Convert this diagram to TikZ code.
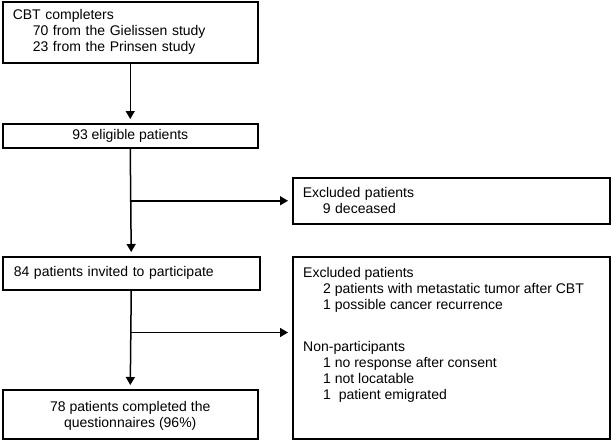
\documentclass[tikz,border=0pt]{standalone}
\usepackage{fontspec}
\setmainfont{Liberation Sans}
\usetikzlibrary{arrows.meta}
\begin{document}
\begin{tikzpicture}[x=1pt,y=1pt,
  font=\fontsize{14}{16}\selectfont,
  box/.style={draw, line width=1.5pt, rectangle, anchor=north west, inner xsep=10pt, inner ysep=0pt},
  arr/.style={line width=1.5pt, shorten >=4pt, -{Triangle[length=8pt,width=9pt]}}]
\useasboundingbox (0,0) rectangle (611,-440);
\node[box, minimum width=255pt, minimum height=61pt, text width=235pt, align=left] (b1) at (2,-1)
  {CBT completers\\\hspace*{20pt}70 from the Gielissen study\\\hspace*{20pt}23 from the Prinsen study};
\node[box, minimum width=255pt, minimum height=24pt, align=center] (b2) at (2,-123) {93 eligible patients};
\node[box, minimum width=317pt, minimum height=46pt, text width=297pt, inner xsep=10pt, align=left] (b3) at (292,-177)
  {Excluded patients\\\hspace*{20pt}9 deceased};
\node[box, minimum width=255pt, minimum height=33pt, text width=235pt, inner xsep=11pt, align=left] (b4) at (2,-256)
  {84 patients invited to participate};
\node[box, minimum width=317pt, minimum height=182pt] (b5) at (292,-256) {};
\node[anchor=north west, inner sep=0pt, align=left] (t5) at ([shift={(11pt,-11pt)}]b5.north west)
  {Excluded patients\\
   \hspace*{20pt}2 patients with metastatic tumor after CBT\\
   \hspace*{20pt}1 possible cancer recurrence\\[26pt]
   Non-participants\\
   \hspace*{20pt}1 no response after consent\\
   \hspace*{20pt}1 not locatable\\
   \hspace*{20pt}1\ \ patient emigrated};
\node[box, minimum width=255pt, minimum height=49pt, align=center] (b6) at (2,-389)
  {\rule{0pt}{14pt}78 patients completed the\\questionnaires (96\%)};
\coordinate (j2) at ([yshift=-42pt]b4.south);
\draw[arr] (b1.south) -- (b2.north);
\draw[arr] (b2.south) -- (b4.north);
\draw[arr] (b4.south) -- (b6.north);
\draw[arr] (b2.south |- b3.west) -- (b3.west);
\draw[arr] (j2) -- (b5.west |- j2);
\end{tikzpicture}
\end{document}
